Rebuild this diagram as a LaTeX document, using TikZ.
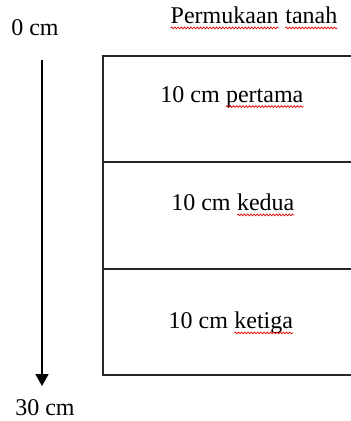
\documentclass[tikz,border=0pt]{standalone}
\usepackage{fontspec}
\setmainfont{Liberation Serif}
\usetikzlibrary{arrows.meta,decorations.pathmorphing}

% word with a red wavy underline (spell-check mark)
\newcommand\squigword[1]{\tikz[baseline=(sqw.base)]{%
  \node[inner sep=0pt,outer sep=0pt,draw=none] (sqw) {#1};
  \draw[red!85!black,line width=0.35pt,decorate,
        decoration={snake,segment length=1.6pt,amplitude=0.45pt}]
    ([yshift=-2.2pt]sqw.base west) -- ([yshift=-2.2pt]sqw.base east);}}

\tikzset{
  layer/.style={draw=black!85,line width=1pt,minimum width=129pt,
                minimum height=53pt,inner sep=0pt},
  lbl/.style={font=\fontsize{12pt}{14pt}\selectfont,inner sep=0pt,text=black},
  depth/.style={line width=0.8pt,-{Triangle[width=6.5pt,length=6pt]}}
}

\begin{document}
\begin{tikzpicture}[x=0.5pt,y=-0.5pt]
  \useasboundingbox (0,0) rectangle (351,421);
  \clip (0,0) rectangle (351,421);

  % soil layers (open to the right)
  \node[layer] (l1) at (232,109) {};
  \node[layer,minimum height=53.5pt] (l2) at (232,215.5) {};
  \node[layer] (l3) at (232,322) {};

  % layer labels
  \node[lbl] (t1) at (232,97) {10 cm \squigword{pertama}};
  \node[lbl] (t2) at (233,205) {10 cm \squigword{kedua}};
  \node[lbl] (t3) at (231,323) {10 cm \squigword{ketiga}};

  % surface label
  \node[lbl] (surf) at (254,18) {\squigword{Permukaan} \squigword{tanah}};

  % depth scale
  \node[lbl] (d0) at (35,28) {0 cm};
  \node[lbl] (d30) at (45,408) {30 cm};
  \coordinate (a0) at (42,60);
  \coordinate (a1) at (42,386);
  \draw[depth] (a0) -- (a1);
\end{tikzpicture}
\end{document}
